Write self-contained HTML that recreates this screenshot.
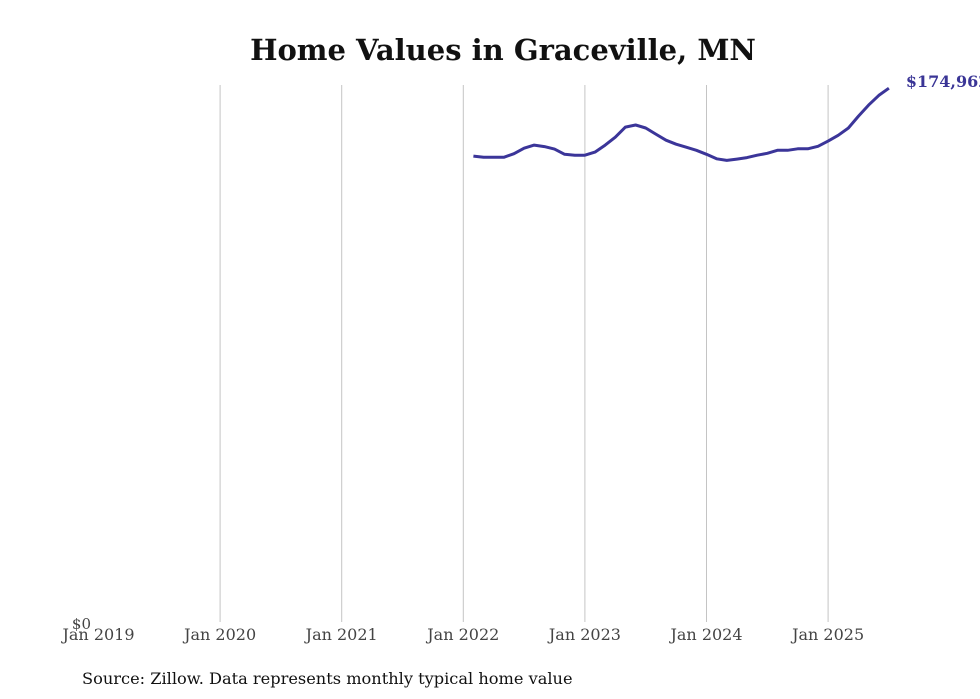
<!DOCTYPE html>
<html><head><meta charset="utf-8"><style>
body{margin:0;background:#fff;}
svg{display:block;font-family:"DejaVu Serif","Liberation Serif",serif;}
</style></head><body>
<svg id="chart" width="980" height="699">
<text x="503" y="60" text-anchor="middle" font-size="29" font-weight="bold" fill="#111">Home Values in Graceville, MN</text>
<g id="grid"></g>
<g id="xticks"></g>
<text x="91" y="629" text-anchor="end" font-size="15" fill="#444">$0</text>
<path id="line" fill="none" stroke="#3b3599" stroke-width="3" stroke-linejoin="round"></path>
<text id="endlabel" font-size="16" font-weight="bold" fill="#3a3596"></text>
<text x="82" y="684" font-size="16.2" fill="#111">Source: Zillow. Data represents monthly typical home value</text>
</svg>
<script>
const tickYears = [2019,2020,2021,2022,2023,2024,2025];
const tickLabels = ["Jan 2019","Jan 2020","Jan 2021","Jan 2022","Jan 2023","Jan 2024","Jan 2025"];
const startMonth = [2022, 2]; // Feb 2022
const values = [152700,152300,152300,152300,153500,155300,156300,155800,155000,153300,153000,
153000,154000,156300,158900,162200,162900,161900,159900,157900,156600,155600,154600,
153300,151800,151300,151700,152200,153000,153600,154600,154600,155100,155100,155900,
157600,159500,161900,165800,169400,172600,174962];
const yMax = 176000;
const x = t => 98.5 + (t - 2019) * 121.6;
const y = v => 622 - v / yMax * 537;
const ns = "http://www.w3.org/2000/svg";
const grid = document.getElementById('grid'), xt = document.getElementById('xticks');
tickYears.forEach((yr,i)=>{
  if(i>0){
    const l=document.createElementNS(ns,'line');
    l.setAttribute('x1',x(yr));l.setAttribute('x2',x(yr));l.setAttribute('y1',85);l.setAttribute('y2',622);
    l.setAttribute('stroke','#c4c4c4');l.setAttribute('stroke-width','1');
    
    
    grid.appendChild(l);
  }
  const t=document.createElementNS(ns,'text');
  t.setAttribute('x',x(yr));t.setAttribute('y',640);t.setAttribute('text-anchor','middle');
  t.setAttribute('font-size','16');t.setAttribute('fill','#444');
  t.textContent=tickLabels[i];
  
  
  xt.appendChild(t);
});
const pts = values.map((v,i)=>{const t=startMonth[0]+(startMonth[1]-1+i)/12;return [x(t),y(v)];});
document.getElementById('line').setAttribute('d', pts.map((p,i)=>(i?'L':'M')+p[0].toFixed(1)+' '+p[1].toFixed(1)).join(''));
const last = pts[pts.length-1], lab=document.getElementById('endlabel');
lab.setAttribute('x', last[0]+17); lab.setAttribute('y', last[1]-1);
lab.textContent = '$' + values[values.length-1].toLocaleString('en-US');
</script>
</body></html>
